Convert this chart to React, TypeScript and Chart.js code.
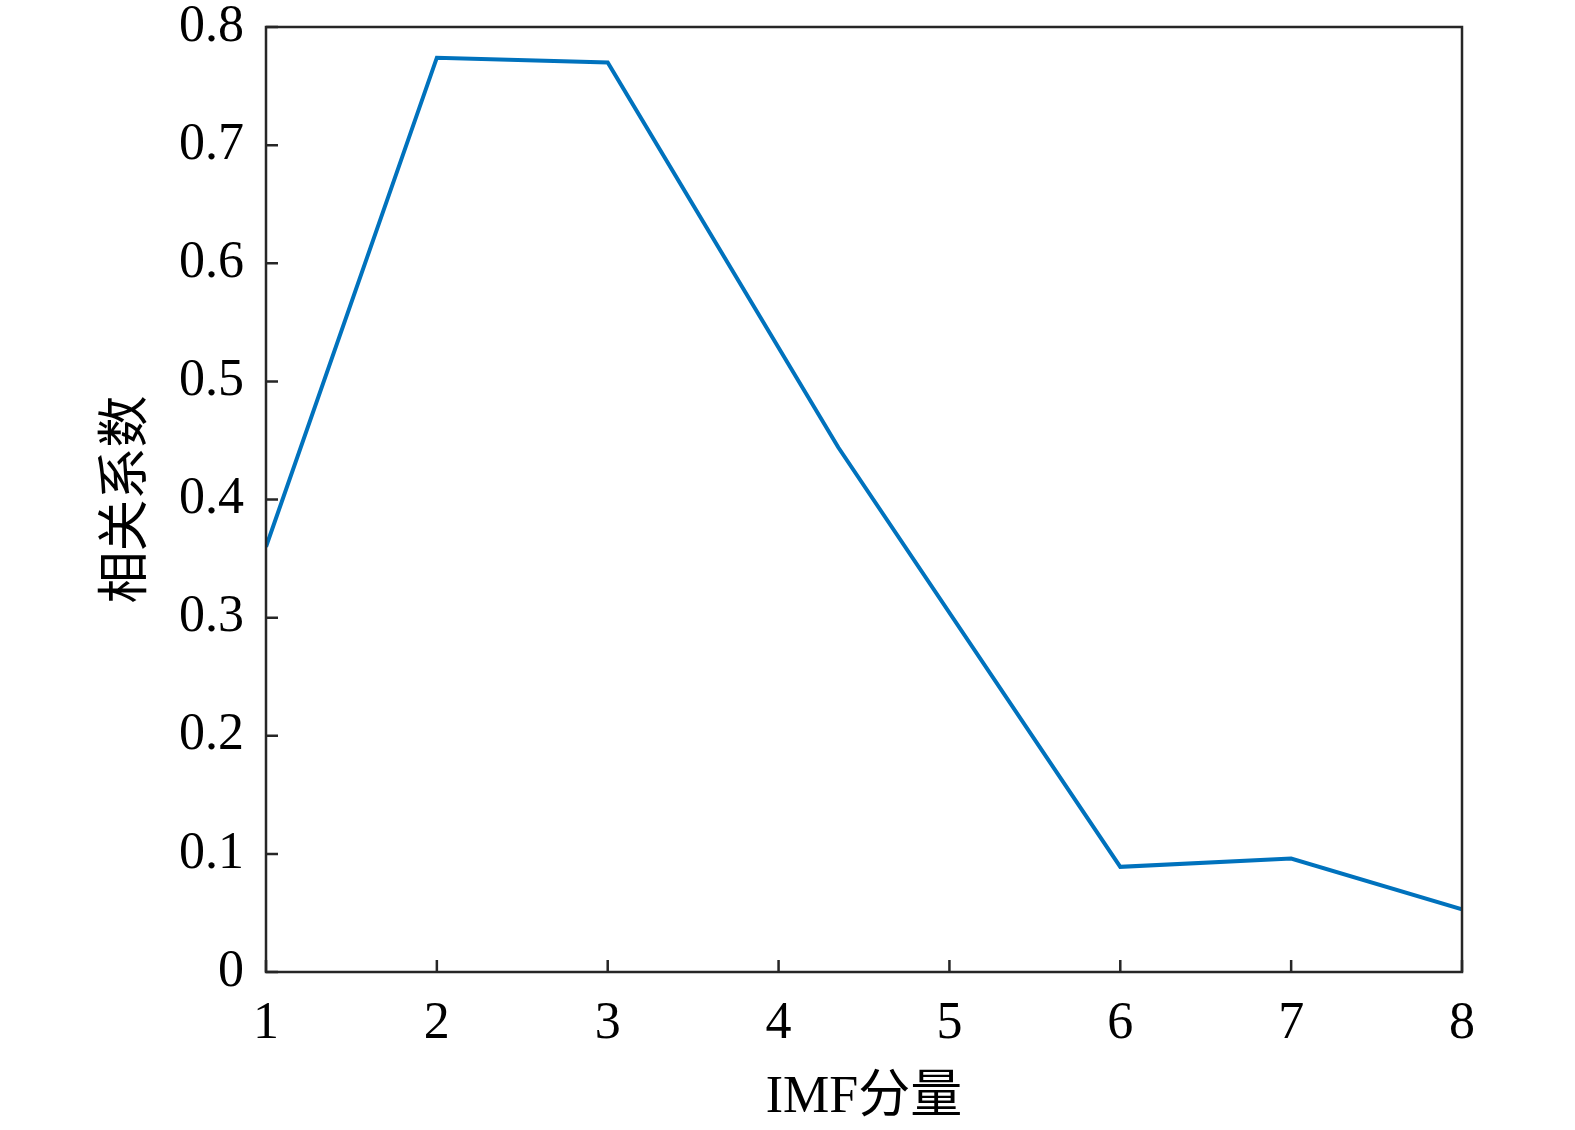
import React, { useEffect, useRef } from "react";
import { Chart, registerables } from "chart.js";

Chart.register(...registerables);

// Data
const xValues = [1, 2, 3, 4.35, 6, 7, 8];
const corrValues = [0.36, 0.774, 0.77, 0.444, 0.089, 0.096, 0.053];
const xTickLabels = ["1", "2", "3", "4", "5", "6", "7", "8"];
const yTickLabels = ["0", "0.1", "0.2", "0.3", "0.4", "0.5", "0.6", "0.7", "0.8"];
const xTitle = "IMF分量";
const yTitle = "相关系数";

const FONT = "'Liberation Serif', 'Times New Roman', 'Noto Sans CJK SC', serif";
const AXIS_COLOR = "#262626";

const framePlugin = {
  id: "matlabFrame",
  afterDatasetsDraw(chart: any) {
    const { ctx, chartArea, scales } = chart;
    const { left, right, top, bottom } = chartArea;
    ctx.save();
    ctx.strokeStyle = AXIS_COLOR;
    ctx.lineWidth = 2.5;
    ctx.beginPath();
    ctx.rect(left, top, right - left, bottom - top);
    ctx.stroke();
    const tl = 12;
    ctx.beginPath();
    scales.x.ticks.forEach((t: any) => {
      const px = scales.x.getPixelForValue(t.value);
      ctx.moveTo(px, bottom);
      ctx.lineTo(px, bottom - tl);
    });
    scales.y.ticks.forEach((t: any) => {
      const py = scales.y.getPixelForValue(t.value);
      ctx.moveTo(left, py);
      ctx.lineTo(left + tl, py);
    });
    ctx.stroke();
    ctx.restore();
  },
};

export default function App() {
  const ref = useRef<HTMLCanvasElement | null>(null);
  useEffect(() => {
    document.body.style.margin = "0";
    if (!ref.current) return;
    const chart = new Chart(ref.current, {
      type: "line",
      data: {
        datasets: [
          {
            data: xValues.map((x, i) => ({ x, y: corrValues[i] })),
            borderColor: "#0072BD",
            borderWidth: 4,
            pointRadius: 0,
            fill: false,
            tension: 0,
          },
        ],
      },
      options: {
        animation: false,
        responsive: false,
        maintainAspectRatio: false,
        layout: { padding: { left: 0, top: 27, right: 113, bottom: 0 } },
        plugins: { legend: { display: false }, tooltip: { enabled: false } },
        scales: {
          x: {
            type: "linear",
            min: 1,
            max: 8,
            border: { display: false },
            grid: { display: false, drawTicks: false },
            ticks: {
              stepSize: 1,
              padding: 21,
              color: "#000",
              font: { family: FONT, size: 52 },
              callback: (v: any, i: number) => xTickLabels[i],
            },
            title: {
              display: true,
              text: xTitle,
              color: "#000",
              font: { family: FONT, size: 52 },
              padding: { top: 0, bottom: 0 },
            },
            afterFit: (s: any) => {
              s.height = 158;
              s.paddingLeft = 0;
              s.paddingRight = 0;
            },
          },
          y: {
            min: 0,
            max: 0.8,
            border: { display: false },
            grid: { display: false, drawTicks: false },
            ticks: {
              stepSize: 0.1,
              padding: 22,
              color: "#000",
              font: { family: FONT, size: 52 },
              callback: (v: any, i: number) => yTickLabels[i],
            },
            title: {
              display: true,
              text: yTitle,
              color: "#000",
              font: { family: FONT, size: 52 },
              padding: { top: 97, bottom: 0 },
            },
            afterFit: (s: any) => {
              s.width = 266;
              s.paddingTop = 0;
              s.paddingBottom = 0;
            },
          },
        },
      },
      plugins: [framePlugin],
    } as any);
    return () => chart.destroy();
  }, []);
  return (
    <canvas
      ref={ref}
      width={1575}
      height={1130}
      style={{ display: "block", width: 1575, height: 1130 }}
    />
  );
}
